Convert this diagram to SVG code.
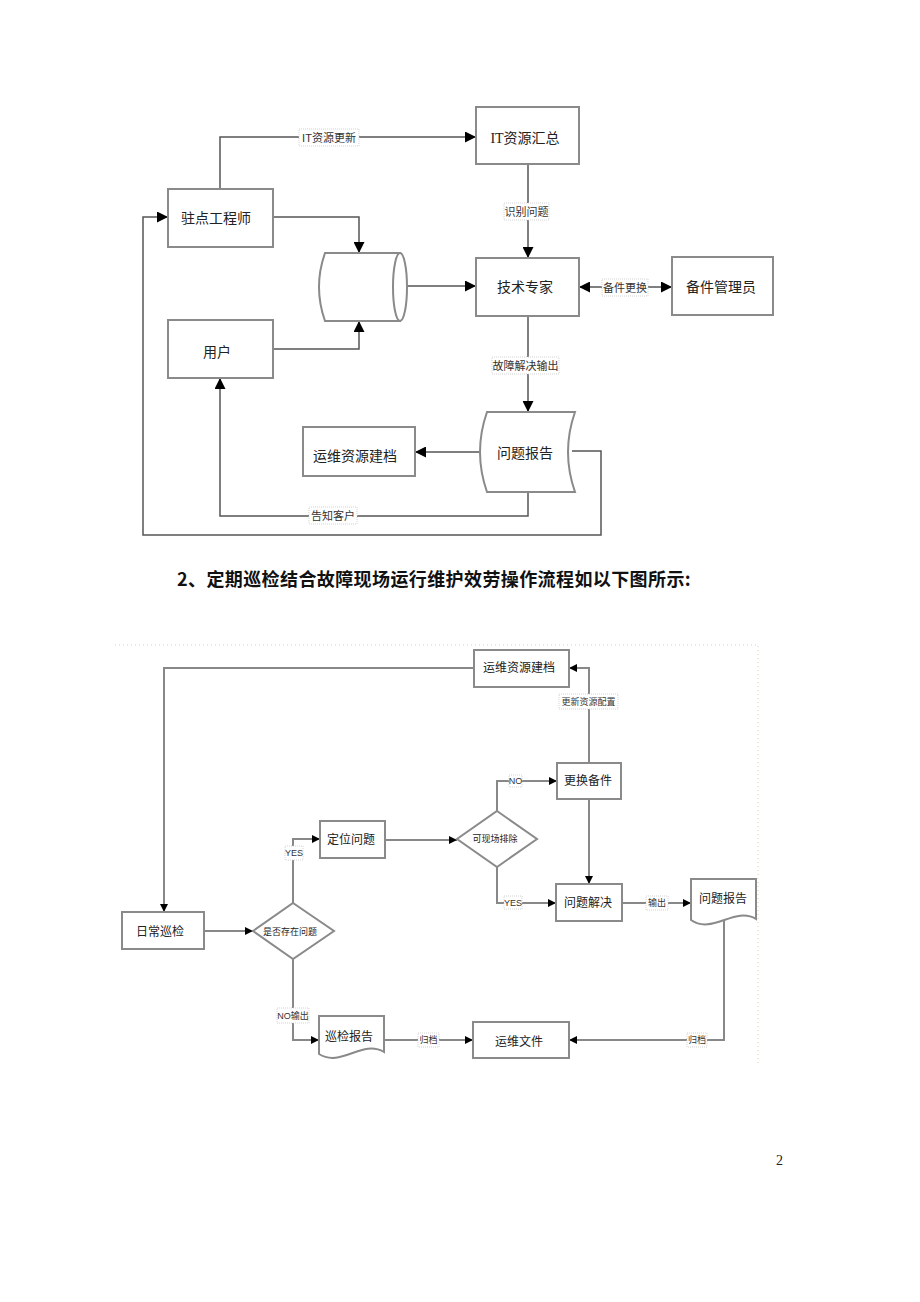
<svg xmlns="http://www.w3.org/2000/svg" width="920" height="1302" viewBox="0 0 920 1302">
<defs>
<marker id="ah" viewBox="0 0 10 10" refX="10" refY="5" markerWidth="11" markerHeight="11" markerUnits="userSpaceOnUse" orient="auto-start-reverse"><path d="M0,0 L10,5 L0,10 Z" fill="#000"/></marker>
<marker id="as" viewBox="0 0 10 10" refX="10" refY="5" markerWidth="8" markerHeight="8" markerUnits="userSpaceOnUse" orient="auto-start-reverse"><path d="M0,0 L10,5 L0,10 Z" fill="#000"/></marker>
<style>
.n{fill:#fff;stroke:#8a8a8a;stroke-width:2}
.t{font-family:"Liberation Serif","Noto Sans CJK SC",serif;fill:#222;text-anchor:middle;dominant-baseline:central}
.t1{font-size:14px}
.t2{font-size:12px}
.t3{font-size:9px}
.c1{fill:none;stroke:#555;stroke-width:1.5;marker-end:url(#ah)}
.c2{fill:none;stroke:#888;stroke-width:2;marker-end:url(#as)}
.lb{fill:#fff;stroke:#c8c8c8;stroke-width:0.8;stroke-dasharray:1 1}
.ll{font-family:"Liberation Sans","Noto Sans CJK SC",sans-serif;fill:#333;text-anchor:middle;dominant-baseline:central}
.frame{fill:none;stroke:#f2c7ae;stroke-width:1;stroke-dasharray:1 3}
</style>
</defs>
<rect width="920" height="1302" fill="#fff"/>

<!-- ===== Top diagram ===== -->
<g id="connectors-top">
<path class="c1" d="M220,189 V137 H476"/>
<path class="c1" d="M528,164 V258"/>
<path class="c1" d="M273,217 H359 V253"/>
<path class="c1" d="M273,349 H359 V321"/>
<path class="c1" d="M400,286 H476"/>
<path class="c1" d="M579,287 H672" style="marker-start:url(#ah)"/>
<path class="c1" d="M528,316 V412"/>
<path class="c1" d="M480,452 H415"/>
<path class="c1" d="M528,492 V516 H220 V378"/>
<path class="c1" d="M572,451 H601 V535 H143 V217 H168"/>
<g id="labels-top">
<rect class="lb" x="299" y="129" width="60" height="17"/><text class="ll" x="329" y="137.5" font-size="11">IT资源更新</text>
<rect class="lb" x="504" y="203" width="45" height="17"/><text class="ll" x="526.5" y="212" font-size="11">识别问题</text>
<rect class="lb" x="492" y="357" width="67" height="17"/><text class="ll" x="525.5" y="366" font-size="11">故障解决输出</text>
<rect class="lb" x="309" y="507" width="48" height="17"/><text class="ll" x="333" y="516" font-size="11">告知客户</text>
<rect class="lb" x="602" y="279" width="46" height="17"/><text class="ll" x="625" y="288" font-size="11">备件更换</text>
</g>
</g>

<g id="zhudian"><rect class="n" x="168" y="189" width="105" height="58"/><text class="t t1" x="216" y="218">驻点工程师</text></g>
<g id="it-huizong"><rect class="n" x="476" y="107" width="103" height="57"/><text class="t t1" x="525" y="138">IT资源汇总</text></g>
<g id="jishu"><rect class="n" x="476" y="258" width="103" height="58"/><text class="t t1" x="525" y="287">技术专家</text></g>
<g id="beijian"><rect class="n" x="672" y="257" width="101" height="58"/><text class="t t1" x="721" y="287">备件管理员</text></g>
<g id="yonghu"><rect class="n" x="168" y="320" width="105" height="58"/><text class="t t1" x="217" y="352">用户</text></g>
<g id="yunwei-top"><rect class="n" x="303" y="427" width="112" height="49"/><text class="t t1" x="355" y="456">运维资源建档</text></g>
<g id="cylinder"><path class="n" d="M400,253 L325,253 Q313,287 325,321 L400,321 Z"/><ellipse class="n" cx="400" cy="287" rx="7" ry="34"/></g>
<g id="report-top"><path class="n" d="M487,412 L575,412 Q561,452 575,492 L487,492 Q473,452 487,412 Z"/><text class="t t1" x="525" y="453">问题报告</text></g>

<!-- Heading -->
<text x="177" y="586" font-family="'Noto Sans CJK SC','Liberation Sans',sans-serif" font-size="18" font-weight="bold" letter-spacing="0.4" fill="#111">2、定期巡检结合故障现场运行维护效劳操作流程如以下图所示:</text>

<!-- ===== Bottom diagram ===== -->
<path class="frame" d="M115,645 H758 V1065"/>
<g id="connectors-bottom">
<path class="c2" d="M474,668 H164 V912"/>
<path class="c2" d="M589,763 V668 H569"/>
<path class="c2" d="M385,840 H457"/>
<path class="c2" d="M497,811 V781 H557"/>
<path class="c2" d="M497,867 V903 H556"/>
<path class="c2" d="M589,799 V884"/>
<path class="c2" d="M622,903 H691"/>
<path class="c2" d="M724,918 V1040 H569"/>
<path class="c2" d="M384,1040 H473"/>
<path class="c2" d="M204,931 H253"/>
<path class="c2" d="M293,903 V839 H320"/>
<path class="c2" d="M293,959 V1040 H319"/>
<g id="labels-bottom">
<rect class="lb" x="559" y="694" width="59" height="15"/><text class="ll" x="588.5" y="701.5" font-size="9">更新资源配置</text>
<rect class="lb" x="509" y="775" width="13" height="12"/><text class="ll" x="515.5" y="781" font-size="9">NO</text>
<rect class="lb" x="504" y="896" width="18" height="13"/><text class="ll" x="513" y="902.5" font-size="9">YES</text>
<rect class="lb" x="646" y="896" width="22" height="14"/><text class="ll" x="657" y="903" font-size="9">输出</text>
<rect class="lb" x="687" y="1033" width="20" height="14"/><text class="ll" x="697" y="1040" font-size="9">归档</text>
<rect class="lb" x="418" y="1033" width="21" height="14"/><text class="ll" x="428.5" y="1040" font-size="9">归档</text>
<rect class="lb" x="285" y="846" width="18" height="14"/><text class="ll" x="294" y="853" font-size="9">YES</text>
<rect class="lb" x="277" y="1008" width="32" height="15"/><text class="ll" x="293" y="1015.5" font-size="9">NO输出</text>
</g>
</g>

<g id="yunwei-bottom"><rect class="n" x="474" y="650" width="95" height="37"/><text class="t t2" x="519" y="668">运维资源建档</text></g>
<g id="genghuan"><rect class="n" x="557" y="763" width="64" height="36"/><text class="t t2" x="588" y="781">更换备件</text></g>
<g id="dingwei"><rect class="n" x="320" y="821" width="65" height="37"/><text class="t t2" x="351" y="840">定位问题</text></g>
<g id="kexianchang"><path class="n" d="M497,811 L537,839 L497,867 L457,839 Z"/><text class="t t3" x="495" y="839">可现场排除</text></g>
<g id="richang"><rect class="n" x="122" y="912" width="82" height="37"/><text class="t t2" x="160" y="932">日常巡检</text></g>
<g id="shifou"><path class="n" d="M293,903 L334,931 L293,959 L253,931 Z"/><text class="t t3" x="290" y="932">是否存在问题</text></g>
<g id="jiejue"><rect class="n" x="556" y="884" width="66" height="37"/><text class="t t2" x="588" y="903">问题解决</text></g>
<g id="report-bottom"><path class="n" d="M691,879 H756 V919 C735,906 712,935 691,920 Z"/><text class="t t2" x="723" y="899">问题报告</text></g>
<g id="wenjian"><rect class="n" x="473" y="1022" width="96" height="36"/><text class="t t2" x="519" y="1042">运维文件</text></g>
<g id="xunjian-report"><path class="n" d="M319,1016 H384 V1052 C362,1039 341,1068 319,1054 Z"/><text class="t t2" x="349" y="1037">巡检报告</text></g>

<text x="776" y="1165" font-family="'Liberation Serif',serif" font-size="14" fill="#222">2</text>
</svg>
